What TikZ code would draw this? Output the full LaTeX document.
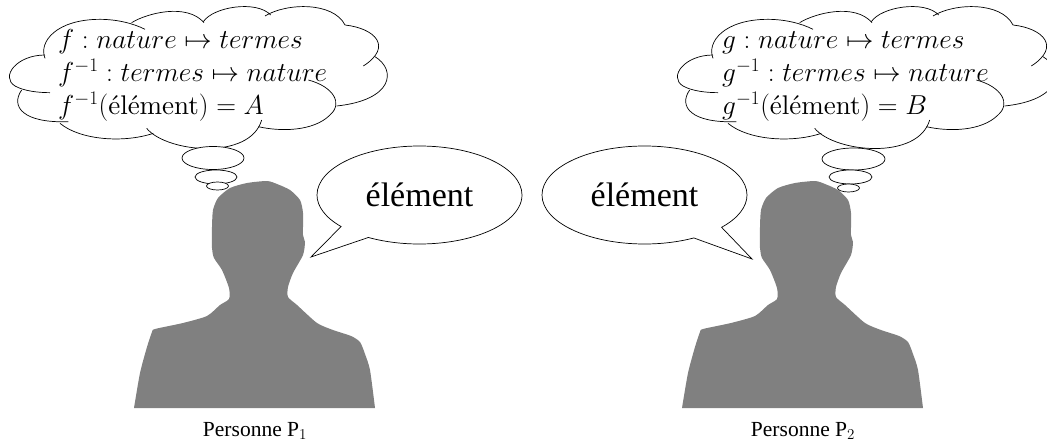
\documentclass[tikz,border=0pt]{standalone}
\usepackage{fix-cm}
\usepackage{amsmath, amssymb}
\usepackage{fontspec}
\newfontfamily\timesfont{Liberation Serif}
\usepackage{tikz}
\usetikzlibrary{shapes, shapes.callouts, positioning}
\tikzset{
    silhouette/.style={fill=black!50, draw=none},
    cloudline/.style={draw, line width=0.7pt},
    thought/.style={ellipse, draw, fill=white, inner sep=0pt, line width=0.7pt},
    speech/.style={ellipse callout, draw, fill=white, inner sep=0pt, line width=0.7pt, minimum width=205pt, minimum height=98pt, callout pointer arc=20, font=\timesfont\fontsize{34}{36}\selectfont},
    formula/.style={anchor=base west, inner sep=0pt, font=\fontsize{27.4}{30}\selectfont},
    caption/.style={inner sep=0pt, anchor=base, font=\timesfont\fontsize{21.5}{24}\selectfont}
}
\newcommand{\wideword}{\text{\scalebox{2.7}{\fontsize{10}{12}\selectfont élément}}}
\newcommand{\personshape}{
    \path[silhouette] plot[smooth, tension=0.4] coordinates {(134,408) (140,373) (147,347) (152,332) (155,329) (183,323) (207,316) (220,305) (229,299) (229,288) (222,270) (214,258) (212,248) (212,227) (213,210) (218,198) (230,188) (247,183) (267,181) (277,184) (290,190) (300,200) (303,213) (303,235) (305,242) (303,255) (293,273) (288,287) (288,297) (297,305) (317,323) (333,330) (351,336) (360,342) (365,354) (370,370) (375,408)} -- cycle;
}
\newcommand{\cloudshape}{
    \draw[cloudline] (135,175) .. controls (115,125) and (170,58) .. (300,58) .. controls (350,58) and (400,70) .. (435,88);
    \draw[cloudline] (395,68) .. controls (440,40) and (560,8) .. (612,68);
    \draw[cloudline] (610,65) .. controls (640,20) and (770,0) .. (812,45);
    \draw[cloudline] (795,48) .. controls (860,8) and (1000,5) .. (1035,75);
    \draw[cloudline] (1035,75) .. controls (1125,85) and (1180,140) .. (1090,198);
    \draw[cloudline] (1125,170) .. controls (1190,210) and (1180,300) .. (1010,318);
    \draw[cloudline] (925,240) .. controls (1000,260) and (1030,310) .. (990,345) .. controls (940,395) and (840,395) .. (775,380);
    \draw[cloudline] (440,385) .. controls (500,458) and (750,482) .. (785,360);
    \draw[cloudline] (180,370) .. controls (240,420) and (370,430) .. (460,400);
    \draw[cloudline] (135,165) .. controls (50,165) and (0,230) .. (45,258) .. controls (70,272) and (110,278) .. (150,278);
    \draw[cloudline] (65,270) .. controls (30,320) and (70,370) .. (205,365);
}

\begin{document}
\begin{tikzpicture}[x=1pt, y=-1pt]
    \useasboundingbox (0,0) rectangle (1047,441);

    % left person
    \personshape
    \begin{scope}[scale=1/3]
        \cloudshape
    \end{scope}
    \node[thought, minimum width=62pt, minimum height=23pt] (thoughtA1) at (213,158) {};
    \node[thought, minimum width=42pt, minimum height=14pt] (thoughtA2) at (216,177) {};
    \node[thought, minimum width=22pt, minimum height=8pt] (thoughtA3) at (217.5,186) {};
    \node[formula] (mapA1) at (58,48.5) {$f : nature \mapsto termes$};
    \node[formula] (mapA2) at (58,81.5) {$f^{-1} : termes \mapsto nature$};
    \node[formula] (mapA3) at (58,114.5) {$f^{-1}(\wideword) = A$};
    \node[speech, callout absolute pointer={(311,257)}] (wordA) at (419.5,195) {élément};
    \node[caption] (nameA) at (255,436) {Personne P$_1$};

    % right person
    \begin{scope}[xshift=548pt]
        \personshape
    \end{scope}
    \begin{scope}[xshift=668pt, scale=1/3]
        \cloudshape
    \end{scope}
    \node[thought, minimum width=63pt, minimum height=22pt] (thoughtB1) at (853.5,159) {};
    \node[thought, minimum width=43pt, minimum height=14pt] (thoughtB2) at (850.5,177) {};
    \node[thought, minimum width=22pt, minimum height=8pt] (thoughtB3) at (848.5,188) {};
    \node[formula] (mapB1) at (722,48.5) {$g : nature \mapsto termes$};
    \node[formula] (mapB2) at (722,81.5) {$g^{-1} : termes \mapsto nature$};
    \node[formula] (mapB3) at (722,114.5) {$g^{-1}(\wideword) = B$};
    \node[speech, callout absolute pointer={(752,259)}] (wordB) at (644.5,195) {élément};
    \node[caption] (nameB) at (803,436) {Personne P$_2$};
\end{tikzpicture}
\end{document}
